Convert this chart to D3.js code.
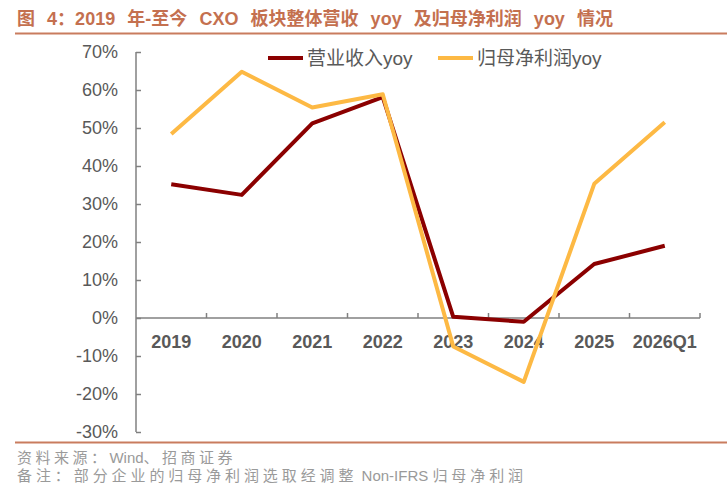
<!DOCTYPE html>
<html><head><meta charset="utf-8">
<script src="https://cdn.jsdelivr.net/npm/d3@7"></script>
<style>
body{margin:0;background:#fff;}
svg{display:block;}
text{font-family:"Liberation Sans",Arial,"Noto Sans CJK SC",sans-serif;}
</style></head>
<body>
<svg id="c" width="727" height="493"></svg>
<script>
const categories = ["2019","2020","2021","2022","2023","2024","2025","2026Q1"];
const revenueYoy = [35.2, 32.4, 51.2, 58.1, 0.3, -1.0, 14.2, 19.0];
const profitYoy  = [48.4, 64.8, 55.4, 58.9, -7.5, -16.8, 35.3, 51.5];
const yTicks = [-30,-20,-10,0,10,20,30,40,50,60,70];
const seriesNames = ["营业收入yoy","归母净利润yoy"];
const title = "图 4：2019 年-至今 CXO 板块整体营收 yoy 及归母净利润 yoy 情况";
const source = "资料来源：Wind、招商证券";
const note = "备注：部分企业的归母净利润选取经调整 Non-IFRS 归母净利润";

const svg = d3.select("#c");
const titleColor = "#C4704F";
const axisColor = "#808080";
const textColor = "#595959";
const colors = ["#8B0000","#FDB944"];

// title: fill target width by widening the word spaces
const tt = svg.append("text").attr("x",17).attr("y",25)
  .attr("fill",titleColor).attr("font-weight","bold").attr("font-size",18)
  .text(title);
{
  const w = tt.node().getComputedTextLength();
  const n = (title.match(/ /g)||[]).length;
  tt.attr("word-spacing", Math.max(0,(596-w)/n));
}
svg.append("line").attr("x1",15).attr("x2",727).attr("y1",33.5).attr("y2",33.5)
  .attr("stroke","#C97C5E").attr("stroke-width",2);

const x = d3.scaleBand().domain(categories).range([136,700]);
const y = d3.scaleLinear().domain([-30,70]).range([432,52]);

// y axis
const gy = svg.append("g").attr("transform","translate(136,0)")
  .call(d3.axisLeft(y).tickValues(yTicks).tickSize(-5).tickPadding(18)
    .tickFormat(d=>d+"%"));
gy.select(".domain").attr("stroke",axisColor).attr("stroke-width",1.5)
  .attr("d","M0,"+y(-30)+"V"+y(70));
gy.selectAll(".tick line").attr("stroke",axisColor).attr("stroke-width",1.5);
gy.selectAll(".tick text").attr("fill",textColor).attr("font-size",18)
  .attr("font-family","'Liberation Sans',Arial,sans-serif");

// x axis at 0
const y0 = y(0);
svg.append("line").attr("x1",136).attr("x2",700).attr("y1",y0).attr("y2",y0)
  .attr("stroke",axisColor).attr("stroke-width",1.5);
svg.append("g").selectAll("line").data(categories).join("line")
  .attr("x1",d=>x(d)+x.bandwidth()).attr("x2",d=>x(d)+x.bandwidth())
  .attr("y1",y0).attr("y2",y0-5).attr("stroke",axisColor).attr("stroke-width",1.5);
const gx = svg.append("g").attr("transform","translate(0,"+y0+")")
  .call(d3.axisBottom(x).tickSize(0).tickPadding(17));
gx.select(".domain").remove();
gx.selectAll(".tick text").attr("fill",textColor).attr("font-size",18)
  .attr("font-weight","bold").attr("font-family","'Liberation Sans',Arial,sans-serif");

// lines
const line = d3.line().x((d,i)=>x(categories[i])+x.bandwidth()/2).y(d=>y(d));
[revenueYoy, profitYoy].forEach((s,k)=>{
  svg.append("path").datum(s).attr("d",line).attr("fill","none")
    .attr("stroke",colors[k]).attr("stroke-width",4).attr("stroke-linejoin","round");
});

// legend
const legendX = [268, 438];
seriesNames.forEach((n,k)=>{
  svg.append("line").attr("x1",legendX[k]).attr("x2",legendX[k]+35)
    .attr("y1",58).attr("y2",58).attr("stroke",colors[k]).attr("stroke-width",4);
  svg.append("text").attr("x",legendX[k]+39).attr("y",65)
    .attr("fill",textColor).attr("font-size",19).text(n);
});

// footer: CJK runs letter-spaced, Latin runs normal
function spacedText(str, xx, yy, target){
  const t = svg.append("text").attr("x",xx).attr("y",yy)
    .attr("fill","#9A9A9A").attr("font-size",15);
  const runs = str.match(/[\u3000-\u9fff\uff00-\uffef]+|[^\u3000-\u9fff\uff00-\uffef]+/g);
  let cjk = 0;
  runs.forEach(r=>{
    const isC = /[\u3000-\u9fff\uff00-\uffef]/.test(r);
    if(isC) cjk += r.length;
    t.append("tspan").attr("class", isC?"cjk":"lat").text(r);
  });
  const w = t.node().getComputedTextLength();
  const ls = Math.max(0,(target-w)/cjk);
  t.selectAll("tspan.cjk").attr("letter-spacing", ls);
}
svg.append("line").attr("x1",15).attr("x2",727).attr("y1",442.5).attr("y2",442.5)
  .attr("stroke","#C97C5E").attr("stroke-width",2);
spacedText(source, 17, 463, 219);
spacedText(note, 17, 481, 510);
</script>
</body></html>
